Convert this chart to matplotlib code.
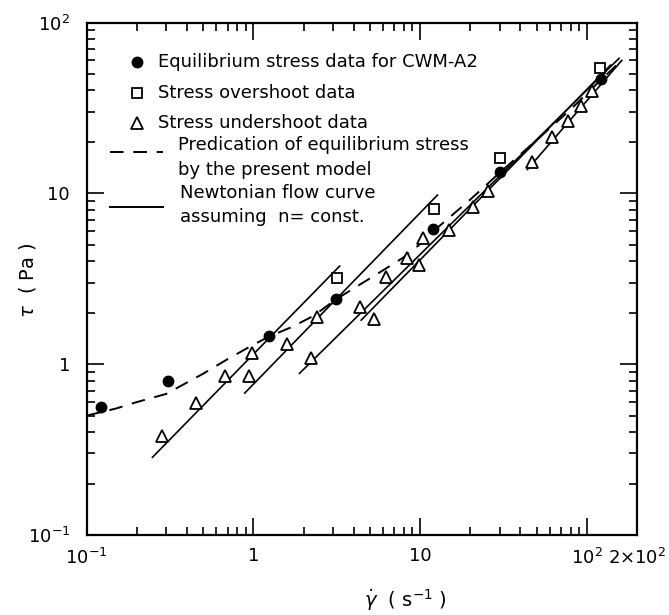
import matplotlib
matplotlib.use('Agg')
import matplotlib.pyplot as plt
from matplotlib.lines import Line2D

# equilibrium stress data (filled circles)
eq_x = [0.122, 0.308, 1.24, 3.11, 11.9, 30.3, 121]
eq_y = [0.558, 0.80, 1.47, 2.40, 6.15, 13.4, 46.7]

# stress overshoot data (open squares)
over_x = [3.17, 12.1, 30.3, 120]
over_y = [3.18, 8.06, 16.0, 54.4]

# stress undershoot data (open triangles)
under_x = [0.281, 0.452, 0.679, 0.94, 0.98, 1.58, 2.22, 2.42, 4.33, 5.27, 6.2,
           8.36, 9.9, 10.4, 15.0, 20.7, 25.6, 46.8, 61.7, 77.6, 92, 107]
under_y = [0.379, 0.589, 0.852, 0.85, 1.16, 1.31, 1.08, 1.89, 2.15, 1.83, 3.22,
           4.16, 3.80, 5.45, 6.1, 8.35, 10.3, 15.2, 21.3, 26.6, 32.4, 39.7]

# model prediction (dashed curve)
model_x = [0.1, 0.15, 0.2, 0.3, 0.5, 0.7, 1.0, 1.24, 1.7, 2.3, 3.1, 4.0, 5.6,
           7.9, 10.4, 12, 20, 30, 50, 80, 121, 150]
model_y = [0.50, 0.55, 0.60, 0.67, 0.88, 1.07, 1.30, 1.45, 1.65, 1.92, 2.38,
           2.78, 3.40, 4.2, 5.2, 6.0, 9.2, 13.2, 20.5, 31, 46, 56]

# Newtonian flow curves (segments: x start, x end, y start, y end)
newt_x = [(0.248, 3.29), (0.887, 12.7), (1.89, 156), (4.43, 139), (44, 162)]
newt_y = [(0.285, 3.75), (0.677, 9.77), (0.883, 61.7), (1.81, 56.4), (13.8, 60)]

xticks = [0.1, 1, 10, 100, 200]
xtick_labels = [r'$10^{-1}$', '1', '10', r'$10^2$', r'$2{\times}10^2$']
yticks = [0.1, 1, 10, 100]
ytick_labels = [r'$10^{-1}$', '1', '10', r'$10^2$']

plt.rcParams['font.family'] = ['DejaVu Sans']
plt.rcParams['mathtext.fontset'] = 'dejavusans'

fig = plt.figure(figsize=(6.69, 6.15), dpi=100)
ax = fig.add_axes([0.1296, 0.1301, 0.8226, 0.8333])

ax.set_xscale('log')
ax.set_yscale('log')
ax.set_xlim(0.1, 200)
ax.set_ylim(0.1, 100)

for (x0, x1), (y0, y1) in zip(newt_x, newt_y):
    ax.plot([x0, x1], [y0, y1], color='black', lw=1.2)

ax.plot(model_x, model_y, color='black', lw=1.4, ls=(0, (7, 5)))

ax.plot(eq_x, eq_y, 'o', color='black', ms=7.5)
ax.plot(over_x, over_y, 's', mfc='white', mec='black', mew=1.3, ms=7)
ax.plot(under_x, under_y, '^', mfc='white', mec='black', mew=1.3, ms=8)

ax.set_xticks(xticks)
ax.set_xticklabels(xtick_labels)
ax.set_yticks(yticks)
ax.set_yticklabels(ytick_labels)
minor_x = [m * d for d in (0.1, 1, 10) for m in range(2, 10)]
minor_y = [m * d for d in (0.1, 1, 10) for m in range(2, 10)]
ax.set_xticks(minor_x, minor=True)
ax.set_yticks(minor_y, minor=True)
ax.tick_params(which='both', direction='in', top=True, right=True, width=1.2)
ax.tick_params(which='major', length=12, labelsize=13)
ax.tick_params(axis='x', which='major', pad=9)
ax.tick_params(axis='y', which='major', pad=12)
ax.tick_params(which='minor', length=6, labelbottom=False, labelleft=False)
for sp in ax.spines.values():
    sp.set_linewidth(1.6)

# legend drawn by hand
tr = ax.transAxes
fs = 13
ax.add_line(Line2D([0.0916], [0.9236], marker='o', color='black', ms=7.5, transform=tr))
ax.add_line(Line2D([0.0916], [0.862], marker='s', mfc='white', mec='black', mew=1.3, ms=7, transform=tr))
ax.add_line(Line2D([0.0916], [0.8035], marker='^', mfc='white', mec='black', mew=1.3, ms=8, transform=tr))
ax.add_line(Line2D([0.0424, 0.139], [0.7479, 0.7479], color='black', lw=1.4, ls=(0, (7, 5)), transform=tr))
ax.add_line(Line2D([0.0424, 0.139], [0.640, 0.640], color='black', lw=1.4, transform=tr))

ax.text(0.130, 0.9236, 'Equilibrium stress data for CWM-A2', transform=tr, fontsize=fs, va='center')
ax.text(0.130, 0.862, 'Stress overshoot data', transform=tr, fontsize=fs, va='center')
ax.text(0.130, 0.8035, 'Stress undershoot data', transform=tr, fontsize=fs, va='center')
ax.text(0.1665, 0.761, 'Predication of equilibrium stress', transform=tr, fontsize=fs, va='center')
ax.text(0.1665, 0.712, 'by the present model', transform=tr, fontsize=fs, va='center')
ax.text(0.169, 0.667, 'Newtonian flow curve', transform=tr, fontsize=fs, va='center')
ax.text(0.169, 0.621, 'assuming  n= const.', transform=tr, fontsize=fs, va='center')

fig.text(405 / 669, 1 - 600 / 615, r'$\dot{\gamma}$  ( s$^{-1}$ )', fontsize=14, ha='center', va='center')
fig.text(28 / 669, 1 - 280 / 615, r'$\tau$  ( Pa )', fontsize=14, ha='center', va='center', rotation=90)

fig.savefig('out.png', dpi=100)
